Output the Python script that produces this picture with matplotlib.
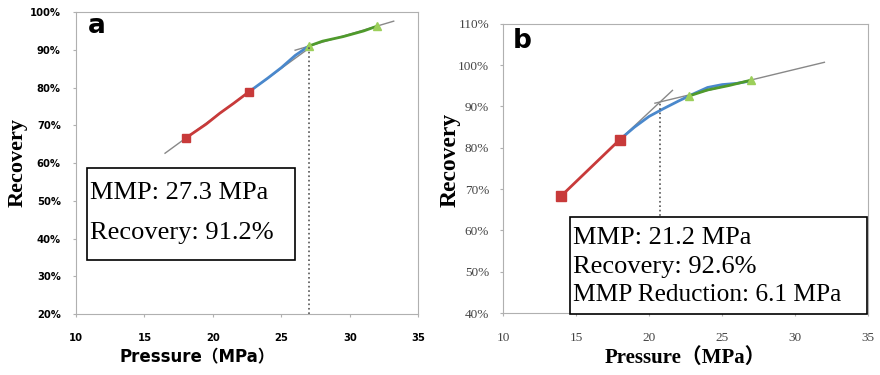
import numpy as np
import matplotlib.pyplot as plt

# panel a data (pressure MPa, recovery %)
a_red_x = [18.0, 19.5, 20.5, 21.5, 22.6]
a_red_y = [66.6, 70.3, 73.2, 75.8, 78.8]
a_blue_x = [22.6, 24.0, 25.0, 26.0, 27.0]
a_blue_y = [78.8, 82.5, 85.3, 88.5, 91.0]
a_green_x = [27.0, 28.0, 29.5, 31.0, 32.0]
a_green_y = [91.0, 92.3, 93.5, 95.0, 96.3]
a_trend1_x = [16.5, 27.0]
a_trend1_y = [62.6, 90.4]
a_trend2_x = [26.0, 33.2]
a_trend2_y = [89.9, 97.6]
a_mmp = 27.0
a_mmp_rec = 91.0

# panel b data
b_red_x = [14.0, 16.0, 18.0]
b_red_y = [68.4, 75.2, 82.0]
b_blue_x = [18.0, 19.0, 20.0, 21.0, 22.0, 23.0, 24.0, 25.0, 26.0, 27.0]
b_blue_y = [82.0, 85.0, 87.6, 89.5, 91.3, 93.0, 94.6, 95.3, 95.6, 96.2]
b_green_x = [22.7, 24.0, 25.5, 27.0]
b_green_y = [92.5, 94.0, 95.1, 96.4]
b_trend1_x = [18.0, 21.6]
b_trend1_y = [82.0, 93.9]
b_trend2_x = [20.4, 32.0]
b_trend2_y = [90.8, 100.7]
b_mmp = 20.75
b_mmp_rec = 91.1

RED = '#c83a3a'
BLUE = '#4a88cc'
GREEN = '#4f9a2c'
LGREEN = '#9ccf5a'
FRAME = '#b0b0b0'
SERIF = 'Liberation Serif'

fig = plt.figure(figsize=(8.8, 3.75), dpi=100)

# ---- panel a ----
ax = fig.add_axes([0.0864, 0.1627, 0.389, 0.805])
ax.plot(a_trend1_x, a_trend1_y, color='#888888', lw=1)
ax.plot(a_trend2_x, a_trend2_y, color='#888888', lw=1)
ax.plot(a_red_x, a_red_y, color=RED, lw=2)
ax.plot(a_blue_x, a_blue_y, color=BLUE, lw=2)
ax.plot(a_green_x, a_green_y, color=GREEN, lw=2)
ax.plot([a_red_x[0], a_red_x[-1]], [a_red_y[0], a_red_y[-1]], 's',
        color=RED, ms=6, ls='none')
ax.plot([a_green_x[0], a_green_x[-1]], [a_green_y[0], a_green_y[-1]], '^',
        color=LGREEN, ms=6, ls='none')
ax.plot([a_mmp, a_mmp], [20, a_mmp_rec], ls=':', color='#555555', lw=1.2)
ax.set_xlim(10, 35)
ax.set_ylim(20, 100)
ax.set_xticks(range(10, 36, 5))
ax.set_yticks(range(20, 101, 10))
ax.set_yticklabels([f'{v}%' for v in range(20, 101, 10)])
for lab in ax.get_xticklabels() + ax.get_yticklabels():
    lab.set_fontweight('bold')
    lab.set_fontsize(7.2)
ax.tick_params(length=2, color=FRAME)
ax.tick_params(axis='x', pad=12)
ax.tick_params(axis='y', pad=9)
for s in ax.spines.values():
    s.set_color(FRAME)
ax.text(0.035, 0.930, 'a', transform=ax.transAxes, fontsize=19,
        fontweight='bold', va='baseline')
ax.add_patch(plt.Rectangle((0.032, 0.179), 0.608, 0.304, transform=ax.transAxes,
                           fc='white', ec='black', lw=1.2, zorder=4))
ax.text(0.04, 0.40, 'MMP: 27.3 MPa', transform=ax.transAxes, fontsize=19,
        family=SERIF, va='center', zorder=5)
ax.text(0.04, 0.268, 'Recovery: 91.2%', transform=ax.transAxes, fontsize=19,
        family=SERIF, va='center', zorder=5)
fig.text(0.02, 0.568, 'Recovery', rotation=90, fontsize=16, fontweight='bold',
         family=SERIF, ha='center', va='center')
fig.text(0.224, 0.048, 'Pressure（MPa）', fontsize=12, fontweight='bold',
         family=['DejaVu Sans', 'Noto Sans CJK SC'], ha='center', va='center')

# ---- panel b ----
bx = fig.add_axes([0.5716, 0.1653, 0.415, 0.771])
bx.plot(b_trend1_x, b_trend1_y, color='#888888', lw=1)
bx.plot(b_trend2_x, b_trend2_y, color='#888888', lw=1)
bx.plot(b_red_x, b_red_y, color=RED, lw=2)
bx.plot(b_blue_x, b_blue_y, color=BLUE, lw=2)
bx.plot(b_green_x, b_green_y, color=GREEN, lw=2)
bx.plot([b_red_x[0], b_red_x[-1]], [b_red_y[0], b_red_y[-1]], 's',
        color=RED, ms=7, ls='none')
bx.plot([b_green_x[0], b_green_x[-1]], [b_green_y[0], b_green_y[-1]], '^',
        color=LGREEN, ms=6, ls='none')
bx.plot([b_mmp, b_mmp], [40, b_mmp_rec], ls=':', color='#555555', lw=1.2)
bx.set_xlim(10, 35)
bx.set_ylim(40, 110)
bx.set_xticks(range(10, 36, 5))
bx.set_yticks(range(40, 111, 10))
bx.set_yticklabels([f'{v}%' for v in range(40, 111, 10)])
for lab in bx.get_xticklabels() + bx.get_yticklabels():
    lab.set_family(SERIF)
    lab.set_fontsize(9.5)
    lab.set_color('#444444')
bx.tick_params(length=2, color=FRAME)
bx.tick_params(axis='x', pad=12)
bx.tick_params(axis='y', pad=8)
for s in bx.spines.values():
    s.set_color(FRAME)
bx.text(0.027, 0.917, 'b', transform=bx.transAxes, fontsize=19,
        fontweight='bold', va='baseline')
bx.add_patch(plt.Rectangle((0.184, -0.003), 0.813, 0.335, transform=bx.transAxes,
                           fc='white', ec='black', lw=1.2, zorder=4,
                           clip_on=False))
bx.text(0.192, 0.26, 'MMP: 21.2 MPa', transform=bx.transAxes, fontsize=19,
        family=SERIF, va='center', zorder=5)
bx.text(0.192, 0.159, 'Recovery: 92.6%', transform=bx.transAxes, fontsize=19,
        family=SERIF, va='center', zorder=5)
bx.text(0.192, 0.062, 'MMP Reduction: 6.1 MPa', transform=bx.transAxes,
        fontsize=18.3, family=SERIF, va='center', zorder=5)
fig.text(0.511, 0.573, 'Recovery', rotation=90, fontsize=17, fontweight='bold',
         family=SERIF, ha='center', va='center')
fig.text(0.779, 0.045, 'Pressure（MPa）', fontsize=15, fontweight='bold',
         family=[SERIF, 'Noto Sans CJK SC'], ha='center', va='center')

fig.savefig('out.png', dpi=100)
